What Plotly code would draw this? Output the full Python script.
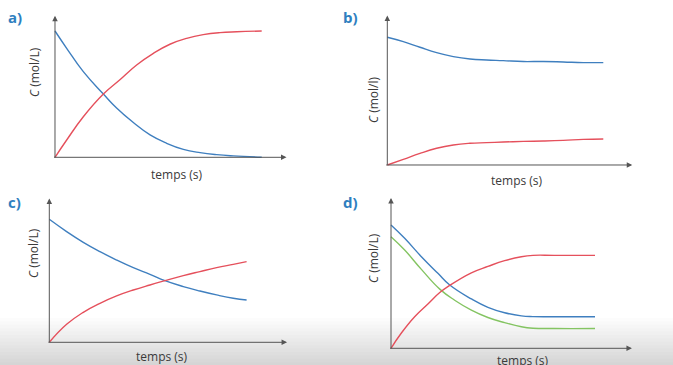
import plotly.graph_objects as go

W, H = 673, 365

# ---- data (time in arbitrary units 0..10, concentration in arbitrary units) ----
a_t_blue = [0, 0.565, 1.37, 2.34, 2.98, 3.79, 4.60, 5.40, 6.21, 7.02, 7.82, 8.63, 10]
a_c_blue = [1.0, 0.863, 0.678, 0.501, 0.390, 0.275, 0.177, 0.111, 0.063, 0.037, 0.021, 0.011, 0.0]
a_t_red = [0, 0.565, 1.37, 2.34, 3.14, 3.95, 4.76, 5.56, 6.37, 7.17, 7.98, 8.79, 10]
a_c_red = [0.0, 0.137, 0.321, 0.501, 0.614, 0.731, 0.823, 0.895, 0.942, 0.971, 0.987, 0.994, 1.0]

b_t = [0, 0.741, 1.512, 2.284, 3.056, 3.827, 4.599, 5.370, 6.296, 7.222, 8.148, 9.074, 10]
b_c_blue = [1.0, 0.966, 0.922, 0.880, 0.849, 0.830, 0.822, 0.817, 0.810, 0.811, 0.807, 0.802, 0.802]
b_c_red = [0.0, 0.044, 0.091, 0.131, 0.157, 0.170, 0.175, 0.180, 0.185, 0.188, 0.193, 0.201, 0.204]

c_t = [0, 0.878, 1.723, 2.568, 3.412, 4.257, 5.101, 5.861, 6.791, 7.635, 8.480, 9.324, 10]
c_c_blue = [1.0, 0.900, 0.813, 0.737, 0.669, 0.607, 0.553, 0.501, 0.453, 0.417, 0.385, 0.358, 0.344]
c_c_red = [0.0, 0.146, 0.244, 0.317, 0.377, 0.425, 0.466, 0.501, 0.542, 0.575, 0.607, 0.634, 0.656]

d_t_blue = [0, 0.67, 1.49, 2.30, 2.88, 3.94, 4.75, 5.57, 6.39, 6.96, 8.0, 10]
d_c_blue = [1.0, 0.892, 0.743, 0.608, 0.513, 0.400, 0.332, 0.288, 0.263, 0.257, 0.256, 0.256]
d_t_green = [0, 0.67, 1.49, 2.39, 3.12, 3.94, 4.75, 5.57, 6.39, 6.96, 8.0, 10]
d_c_green = [0.905, 0.797, 0.640, 0.480, 0.390, 0.310, 0.250, 0.208, 0.175, 0.163, 0.160, 0.160]
d_t_red = [0, 0.5, 1.16, 1.81, 2.39, 2.88, 3.94, 4.75, 5.57, 6.39, 6.96, 8.0, 10]
d_c_red = [0.0, 0.122, 0.256, 0.359, 0.452, 0.510, 0.612, 0.664, 0.711, 0.743, 0.754, 0.754, 0.754]

panel_letters = ["a)", "b)", "c)", "d)"]
y_titles = ["<i>C</i> (mol/L)", "<i>C</i> (mol/l)", "<i>C</i> (mol/L)", "<i>C</i> (mol/L)"]
x_title = "temps (s)"

BLUE = "#3f7fbf"
RED = "#e5505c"
GREEN = "#84c462"
AXIS = "#555555"
LABEL_BLUE = "#2f7fc0"
TEXT = "#3a3a3a"

# panel geometry: origin px, px per unit, arrow ends (in data units)
panels = [
    dict(x0=55, y0=157.3, sx=20.67, sy=126.3, xend=11.2, yend=1.12,
         series=[(a_t_blue, a_c_blue, BLUE), (a_t_red, a_c_red, RED)],
         letter=(15, 17), ylab=(35, 72), xlab=(177, 175)),
    dict(x0=387.3, y0=165, sx=21.6, sy=127.7, xend=11.34, yend=1.17,
         series=[(b_t, b_c_blue, BLUE), (b_t, b_c_red, RED)],
         letter=(350, 17), ylab=(373, 100), xlab=(517, 180)),
    dict(x0=49.3, y0=342.3, sx=19.73, sy=123, xend=12.05, yend=1.17,
         series=[(c_t, c_c_blue, BLUE), (c_t, c_c_red, RED)],
         letter=(14, 202), ylab=(33, 253), xlab=(162, 356)),
    dict(x0=391, y0=348.3, sx=20.4, sy=123.3, xend=11.81, yend=1.22,
         series=[(d_t_green, d_c_green, GREEN), (d_t_blue, d_c_blue, BLUE), (d_t_red, d_c_red, RED)],
         letter=(350, 202), ylab=(373, 258), xlab=(523, 360)),
]

fig = go.Figure()
annotations = []
shapes = []

# soft grey gradient at the bottom of the frame
for k in range(14):
    ytop = 318 + k * 3.4
    shapes.append(dict(type="rect", xref="paper", yref="paper", x0=0, x1=1,
                       y0=0, y1=1 - ytop / H, line=dict(width=0),
                       fillcolor="rgba(140,140,140,0.022)", layer="below"))

for i, p in enumerate(panels):
    n = i + 1
    xa = "x" if n == 1 else f"x{n}"
    ya = "y" if n == 1 else f"y{n}"
    xmin, ymin = -0.3, -0.05
    xmax, ymax = p["xend"] + 0.3, p["yend"] + 0.05
    left = p["x0"] + xmin * p["sx"]
    right = p["x0"] + xmax * p["sx"]
    bottom = p["y0"] - ymin * p["sy"]
    top = p["y0"] - ymax * p["sy"]
    ax_common = dict(showgrid=False, zeroline=False, showline=False,
                     showticklabels=False, ticks="", fixedrange=True)
    fig.layout[f"xaxis{'' if n == 1 else n}"] = dict(
        domain=[left / W, right / W], range=[xmin, xmax], anchor=ya, **ax_common)
    fig.layout[f"yaxis{'' if n == 1 else n}"] = dict(
        domain=[1 - bottom / H, 1 - top / H], range=[ymin, ymax], anchor=xa, **ax_common)

    for t, c, col in p["series"]:
        fig.add_trace(go.Scatter(x=t, y=c, mode="lines", xaxis=xa, yaxis=ya,
                                 line=dict(color=col, width=1.4, shape="spline", smoothing=1.3),
                                 hoverinfo="skip", showlegend=False, cliponaxis=False))

    # axes with arrows
    annotations.append(dict(x=p["xend"], y=0, ax=-0.12, ay=0, xref=xa, yref=ya,
                            axref=xa, ayref=ya, text="", showarrow=True,
                            arrowhead=2, arrowsize=1.1, arrowwidth=1, arrowcolor=AXIS))
    annotations.append(dict(x=0, y=p["yend"], ax=0, ay=-0.01, xref=xa, yref=ya,
                            axref=xa, ayref=ya, text="", showarrow=True,
                            arrowhead=2, arrowsize=1.1, arrowwidth=1, arrowcolor=AXIS))

    lx, ly = p["letter"]
    annotations.append(dict(x=lx / W, y=1 - ly / H, xref="paper", yref="paper",
                            xanchor="center", yanchor="middle",
                            text=f"<b>{panel_letters[i]}</b>", showarrow=False,
                            font=dict(family="Open Sans", size=15, color=LABEL_BLUE)))
    yx, yy = p["ylab"]
    annotations.append(dict(x=yx / W, y=1 - yy / H, xref="paper", yref="paper",
                            xanchor="center", yanchor="middle",
                            text=y_titles[i], showarrow=False, textangle=-90,
                            font=dict(family="Open Sans", size=12, color=TEXT)))
    tx, ty = p["xlab"]
    annotations.append(dict(x=tx / W, y=1 - ty / H, xref="paper", yref="paper",
                            xanchor="center", yanchor="middle",
                            text=x_title, showarrow=False,
                            font=dict(family="Open Sans", size=12, color=TEXT)))

fig.update_layout(width=W, height=H, margin=dict(l=0, r=0, t=0, b=0),
                  paper_bgcolor="white", plot_bgcolor="rgba(0,0,0,0)",
                  annotations=annotations, shapes=shapes, showlegend=False)

fig.write_html("out.html", config={"displayModeBar": False},
               post_script="document.body.style.margin='0px';document.body.style.overflow='hidden';")
